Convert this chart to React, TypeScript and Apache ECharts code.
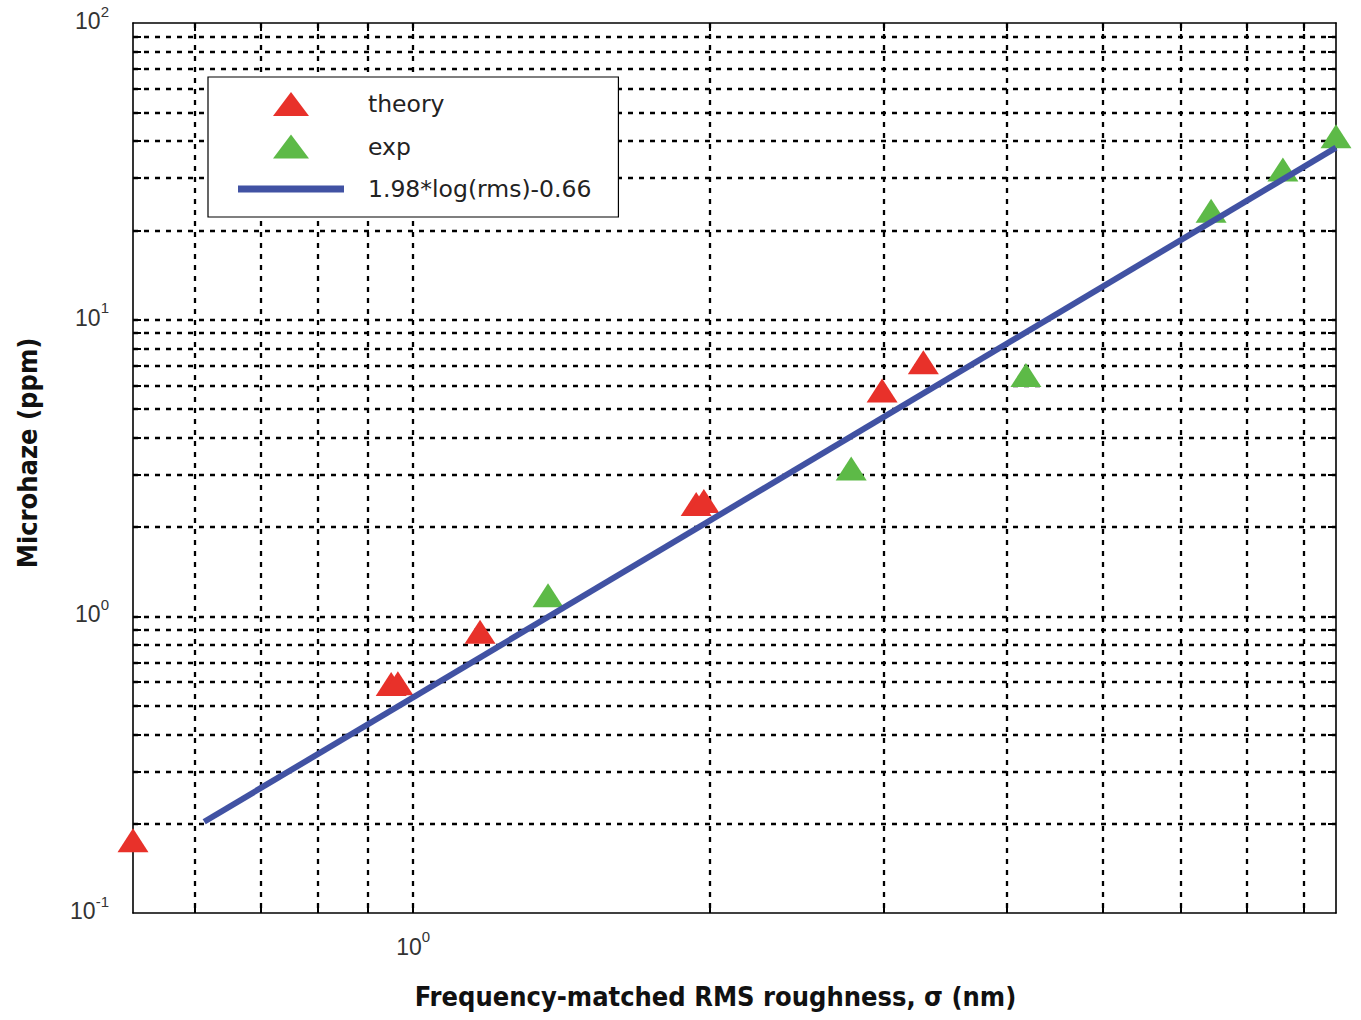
import React, { useEffect, useRef } from 'react';
import * as echarts from 'echarts';

// ---- data ----
const theoryData: [number, number][] = [
  [0.52, 0.176],
  [0.95, 0.591],
  [0.965, 0.595],
  [1.169, 0.887],
  [1.936, 2.39],
  [1.971, 2.45],
  [2.988, 5.77],
  [3.29, 7.19],
];
const expData: [number, number][] = [
  [1.37, 1.177],
  [2.78, 3.15],
  [4.18, 6.51],
  [6.44, 23.3],
  [7.615, 32.1],
  [8.62, 41.5],
];
const fitLine: [number, number][] = [
  [0.614, 0.203],
  [8.62, 38.0],
];
const xGridValues = [0.6, 0.7, 0.8, 0.9, 1, 2, 3, 4, 5, 6, 7, 8];
const yGridValues = [
  0.2, 0.3, 0.4, 0.5, 0.6, 0.7, 0.8, 0.9, 1, 2, 3, 4, 5, 6, 7, 8, 9, 10, 20, 30,
  40, 50, 60, 70, 80, 90,
];
const xLabelValues = [1];
const yLabelValues = [0.1, 1, 10, 100];
const X_MIN = 0.52;
const X_MAX = 8.62;
const Y_MIN = 0.1;
const Y_MAX = 100;
const seriesNames = ['theory', 'exp', '1.98*log(rms)-0.66'];

const TITLE_FONT = "'DejaVu Sans Condensed', 'DejaVu Sans', sans-serif";
const LABEL_FONT = "'Liberation Sans', Arial, sans-serif";

const powLabel = (v: number) => {
  const e = Math.round(Math.log10(v));
  return `{b|10}{s|${e}}`;
};

const gridLineStyle = { color: '#000', width: 2.3, type: [5, 6] as number[] };
const frameLine = { show: true, lineStyle: { color: '#000', width: 1.6 } };
const tickStyle = (vals: number[]) => ({
  show: true,
  inside: true,
  length: 8,
  customValues: vals,
  lineStyle: { color: '#000', width: 2 },
});

export default function App() {
  const ref = useRef<HTMLDivElement>(null);
  useEffect(() => {
    document.body.style.margin = '0';
    if (!ref.current) return;
    const chart = echarts.init(ref.current, undefined, { renderer: 'svg' });
    const xBase = {
      type: 'log' as const,
      logBase: 10,
      min: X_MIN,
      max: X_MAX,
    };
    const yBase = {
      type: 'log' as const,
      logBase: 10,
      min: Y_MIN,
      max: Y_MAX,
    };
    chart.setOption({
      animation: false,
      backgroundColor: '#fff',
      grid: { left: 133, right: 25, top: 23, bottom: 107, containLabel: false },
      legend: {
        orient: 'vertical',
        left: 208,
        top: 77,
        backgroundColor: '#fff',
        borderColor: '#000',
        borderWidth: 1.2,
        padding: [15, 27, 16, 30],
        itemWidth: 106,
        itemHeight: 24,
        itemGap: 18.5,
        symbolKeepAspect: true,
        selectedMode: false,
        textStyle: {
          fontSize: 23.5,
          fontFamily: "'DejaVu Sans', sans-serif",
          color: '#222',
          padding: [0, 0, 0, 19],
        },
        data: [
          { name: seriesNames[0], icon: 'path://M18,0L36,24L0,24Z' },
          { name: seriesNames[1], icon: 'path://M18,0L36,24L0,24Z' },
          { name: seriesNames[2], icon: 'path://M0,0L106,0L106,7L0,7Z' },
        ],
      },
      xAxis: [
        {
          ...xBase,
          position: 'bottom',
          name: 'Frequency-matched RMS roughness, σ (nm)',
          nameLocation: 'middle',
          nameGap: 70,
          nameTextStyle: {
            fontFamily: TITLE_FONT,
            fontWeight: 'bold',
            fontSize: 27,
            color: '#111',
            padding: [0, 38, 0, 0],
          },
          axisLine: frameLine,
          axisTick: tickStyle(xGridValues),
          splitLine: { show: true, lineStyle: gridLineStyle },
          minorTick: { show: false },
          minorSplitLine: { show: false },
          axisLabel: {
            show: true,
            customValues: xLabelValues,
            margin: 16,
            formatter: powLabel,
            rich: {
              b: { fontSize: 23, fontFamily: LABEL_FONT, color: '#333', padding: [6, 0, 0, 0] },
              s: { fontSize: 15, fontFamily: LABEL_FONT, color: '#333', verticalAlign: 'top' },
            },
          },
        },
        {
          ...xBase,
          position: 'top',
          axisLine: frameLine,
          axisTick: tickStyle(xGridValues),
          splitLine: { show: false },
          axisLabel: { show: false },
        },
      ],
      yAxis: [
        {
          ...yBase,
          position: 'left',
          name: 'Microhaze (ppm)',
          nameLocation: 'middle',
          nameGap: 92,
          nameTextStyle: {
            fontFamily: TITLE_FONT,
            fontWeight: 'bold',
            fontSize: 27,
            color: '#111',
            padding: [0, 0, 0, 30],
          },
          axisLine: frameLine,
          axisTick: tickStyle(yGridValues),
          splitLine: { show: true, lineStyle: gridLineStyle },
          axisLabel: {
            show: true,
            customValues: yLabelValues,
            margin: 24,
            formatter: powLabel,
            rich: {
              b: { fontSize: 23, fontFamily: LABEL_FONT, color: '#333', padding: [6, 0, 10, 0] },
              s: { fontSize: 15, fontFamily: LABEL_FONT, color: '#333', verticalAlign: 'top' },
            },
          },
        },
        {
          ...yBase,
          position: 'right',
          axisLine: frameLine,
          axisTick: tickStyle(yGridValues),
          splitLine: { show: false },
          axisLabel: { show: false },
        },
      ],
      series: [
        {
          name: seriesNames[0],
          type: 'scatter',
          data: theoryData,
          symbol: 'triangle',
          symbolSize: [31, 24],
          itemStyle: { color: '#E8312A', opacity: 1 },
          clip: false,
          silent: true,
        },
        {
          name: seriesNames[1],
          type: 'scatter',
          data: expData,
          symbol: 'triangle',
          symbolSize: [31, 24],
          itemStyle: { color: '#5DBA47', opacity: 1 },
          clip: false,
          silent: true,
        },
        {
          name: seriesNames[2],
          type: 'line',
          data: fitLine,
          symbol: 'none',
          lineStyle: { color: '#4152A3', width: 6 },
          itemStyle: { color: '#4152A3' },
          clip: false,
          silent: true,
        },
      ],
    });
    return () => chart.dispose();
  }, []);
  return <div ref={ref} style={{ width: 1361, height: 1020 }} />;
}
